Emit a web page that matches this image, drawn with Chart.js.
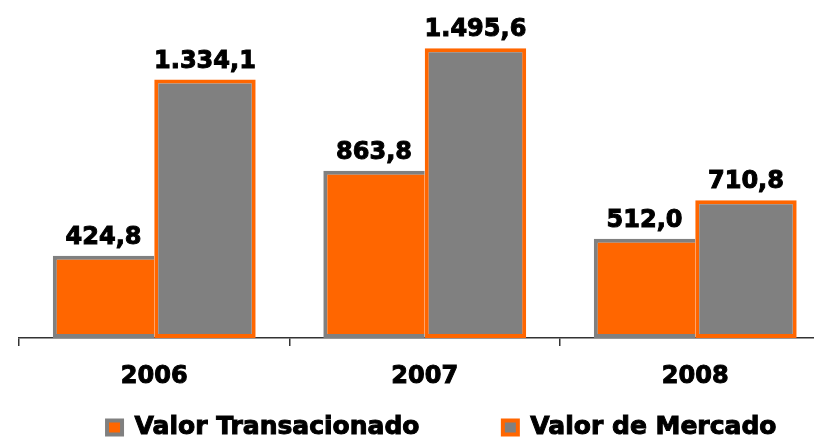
<!DOCTYPE html>
<html lang="pt-BR">
<head>
<meta charset="utf-8">
<title>Valor Transacionado x Valor de Mercado</title>
<script src="https://cdn.jsdelivr.net/npm/chart.js@4.4.1/dist/chart.umd.min.js"></script>
<style>
  html, body { margin: 0; padding: 0; overflow: hidden; background: #fff; }
  #grafico { display: block; }
</style>
</head>
<body>
<canvas id="grafico" width="832" height="450"></canvas>
<script>
const anos = ['2006', '2007', '2008'];
const valorTransacionado = [424.8, 863.8, 512.0];
const valorMercado = [1334.1, 1495.6, 710.8];

const LARANJA = '#FF6600';
const CINZA = '#808080';
const FAMILIA = '"DejaVu Sans", Verdana, sans-serif';
const TAM_LEGENDA = 25;
const CAIXA_LEGENDA = 15;

// 1334.1 -> "1.334,1"
function formatarBR(v) {
    const [inteiro, dec] = v.toFixed(1).split('.');
    return inteiro.replace(/\B(?=(\d{3})+(?!\d))/g, '.') + ',' + dec;
}

// --- Rótulos de valor em cima das barras ---
const rotulosValor = {
    id: 'rotulosValor',
    afterDatasetsDraw(chart) {
        const ctx = chart.ctx;
        ctx.save();
        ctx.font = 'bold 24px ' + FAMILIA;
        ctx.fillStyle = '#000';
        ctx.strokeStyle = '#000';
        ctx.lineWidth = 1;
        ctx.textAlign = 'center';
        ctx.textBaseline = 'alphabetic';
        chart.data.datasets.forEach((ds, i) => {
            chart.getDatasetMeta(i).data.forEach((bar, j) => {
                const txt = formatarBR(ds.data[j]);
                ctx.fillText(txt, bar.x, bar.y - 12);
                ctx.strokeText(txt, bar.x, bar.y - 12);
            });
        });
        ctx.restore();
    }
};

// --- Legenda um pouco à direita do centro, como no original ---
const deslocaLegenda = {
    id: 'deslocaLegenda',
    afterLayout(chart) {
        chart.legend.left += 17;
        chart.legend.right += 17;
    },
    // reforça o negrito do texto da legenda
    afterDraw(chart) {
        const leg = chart.legend;
        const ctx = chart.ctx;
        ctx.save();
        ctx.font = 'bold ' + TAM_LEGENDA + 'px ' + FAMILIA;
        ctx.strokeStyle = '#000';
        ctx.lineWidth = 1;
        ctx.textAlign = 'left';
        ctx.textBaseline = 'middle';
        leg.legendItems.forEach((it, i) => {
            const hb = leg.legendHitBoxes[i];
            ctx.strokeText(it.text.trimEnd(), hb.left + CAIXA_LEGENDA + TAM_LEGENDA / 2, hb.top + hb.height / 2);
        });
        ctx.restore();
    }
};

new Chart(document.getElementById('grafico'), {
    type: 'bar',
    data: {
        labels: anos,
        datasets: [{
            label: 'Valor Transacionado',
            data: valorTransacionado,
            backgroundColor: LARANJA,
            borderColor: CINZA,
            borderWidth: { top: 4, left: 4, bottom: 4, right: 0 },
            borderSkipped: false,
            categoryPercentage: 0.75,
            barPercentage: 1
        }, {
            label: 'Valor de Mercado',
            data: valorMercado,
            backgroundColor: CINZA,
            borderColor: LARANJA,
            borderWidth: 4,
            borderSkipped: false,
            categoryPercentage: 0.75,
            barPercentage: 1
        }]
    },
    options: {
        responsive: false,
        animation: false,
        events: [],
        layout: { padding: { top: 28, left: 19, right: 1.5, bottom: 0 } },
        scales: {
            x: {
                grid: { drawOnChartArea: false, tickLength: 8, color: '#333', lineWidth: 1.5 },
                border: { color: '#333', width: 1.5 },
                ticks: {
                    color: '#000',
                    font: { family: FAMILIA, size: 24, weight: 'bold' },
                    padding: 16,
                    textStrokeColor: '#000',
                    textStrokeWidth: 1
                },
                afterFit(scale) { scale.height = 77; }
            },
            y: { display: false, min: 0, max: 1600 }
        },
        plugins: {
            tooltip: { enabled: false },
            legend: {
                position: 'bottom',
                labels: {
                    color: '#000',
                    font: { family: FAMILIA, size: TAM_LEGENDA, weight: 'bold' },
                    boxWidth: CAIXA_LEGENDA,
                    boxHeight: 14,
                    padding: 0,
                    generateLabels(chart) {
                        const itens = Chart.defaults.plugins.legend.labels.generateLabels(chart);
                        itens.forEach((it, i) => {
                            it.lineWidth = 4;
                            if (i === 0) it.text += ' '.repeat(9) + '\u2009'; // espaço entre os itens
                        });
                        return itens;
                    }
                }
            }
        }
    },
    plugins: [rotulosValor, deslocaLegenda]
});
</script>
</body>
</html>
